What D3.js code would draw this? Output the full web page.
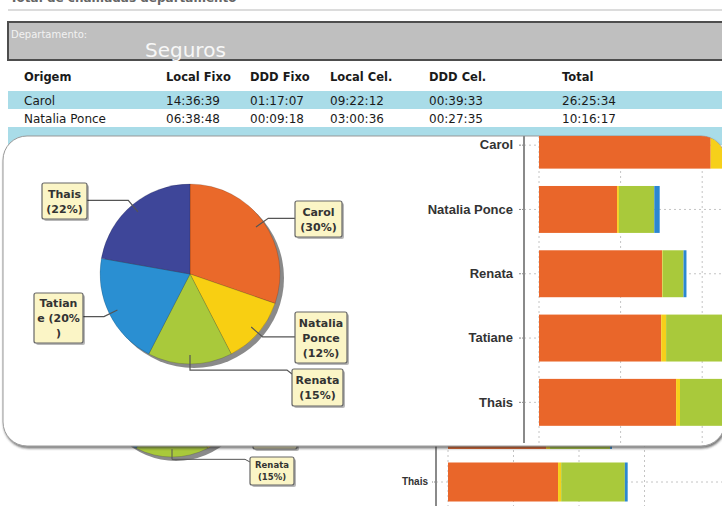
<!DOCTYPE html>
<meta charset="UTF-8">
<style>
    body { margin: 0; background: #fff; }
    svg { display: block; }
    .tbl text { font: 12px "DejaVu Sans", sans-serif; fill: #1a1a1a; }
    .tbl text.hdr { font-weight: bold; font-size: 11.5px; }
    .cat text { font: bold 13px "Liberation Sans", Arial, sans-serif; fill: #333; }
    .bgcat text { font: bold 10px "Liberation Sans", Arial, sans-serif; fill: #333; }
    .grid line { stroke: #c4c4c4; stroke-dasharray: 2,3; }
</style>
<body>
<div id="chart"></div>
<script src="https://d3js.org/d3.v7.min.js"></script>
<script>
    // people and the four call types (hh:mm:ss)
    var people = ["Carol", "Natalia Ponce", "Renata", "Tatiane", "Thais"];
    var headers = ["Origem", "Local Fixo", "DDD Fixo", "Local Cel.", "DDD Cel.", "Total"];
    var localFixo = ["14:36:39", "06:38:48", "10:28:00", "10:24:00", "11:40:00"];
    var dddFixo   = ["01:17:07", "00:09:18", "00:03:00", "00:25:00", "00:20:00"];
    var localCel  = ["09:22:12", "03:00:36", "01:47:00", "06:22:00", "06:45:00"];
    var dddCel    = ["00:39:33", "00:27:35", "00:15:00", "00:12:00", "00:18:00"];
    var totals    = ["26:25:34", "10:16:17"];
    var pieShare  = [30, 12, 15, 20, 22];
    var xTicks    = [0, 25000, 50000, 75000];

    var seriesColors = ["#e9662a", "#f6d01a", "#a9c93b", "#2b87d1"];
    var pieColors = ["#ea692a", "#f8cf12", "#a9c93b", "#2a8fd2", "#3e4699"];

    var W = 722, H = 506;
    var svg = d3.select("#chart").append("svg").attr("width", W).attr("height", H);
    var defs = svg.append("defs");

    var sh = defs.append("filter").attr("id", "cardShadow")
            .attr("x", "-5%").attr("y", "-5%").attr("width", "110%").attr("height", "115%");
    sh.append("feDropShadow").attr("dx", 1).attr("dy", 2).attr("stdDeviation", 1.3)
            .attr("flood-color", "#333").attr("flood-opacity", 0.65);

    var card = {x: 3, y: 136, w: 722, h: 310, r: 24};
    defs.append("clipPath").attr("id", "cardClip").append("rect")
            .attr("x", card.x).attr("y", card.y).attr("width", card.w).attr("height", card.h)
            .attr("rx", card.r);

    function sec(s) {
        var p = s.split(":").map(Number);
        return p[0] * 3600 + p[1] * 60 + p[2];
    }

    var rows = people.map(function (p, i) {
        return {name: p, lf: sec(localFixo[i]), df: sec(dddFixo[i]), lc: sec(localCel[i]), dc: sec(dddCel[i])};
    });
    var keys = ["lf", "df", "lc", "dc"];
    var stacked = d3.stack().keys(keys)(rows);

    // ****************** report page (background) ******************

    var page = svg.append("g");
    page.append("text").attr("x", 10).attr("y", 2)
            .style("font", "bold 12px 'DejaVu Sans', sans-serif").attr("fill", "#666")
            .text("Total de chamadas departamento");
    page.append("line").attr("x1", 8).attr("x2", W).attr("y1", 10).attr("y2", 10)
            .attr("stroke", "#dcdcdc").attr("stroke-width", 2);

    page.append("rect").attr("x", 8).attr("y", 22).attr("width", 716).attr("height", 38)
            .attr("fill", "#bfbfbf").attr("stroke", "#4d4d4d").attr("stroke-width", 2);
    page.append("text").attr("x", 11).attr("y", 38).attr("fill", "#f2f2f2")
            .style("font", "10px 'DejaVu Sans', sans-serif").text("Departamento:");
    page.append("text").attr("x", 145).attr("y", 57).attr("fill", "#f7f7f7")
            .style("font", "20px 'DejaVu Sans', sans-serif").text("Seguros");

    var colX = [24, 166, 250, 330, 429, 562];
    var tbl = page.append("g").attr("class", "tbl");
    [91, 127].forEach(function (y) {
        tbl.append("rect").attr("x", 8).attr("y", y).attr("width", 716).attr("height", 18).attr("fill", "#a9dce8");
    });
    tbl.selectAll("text.hdr").data(headers).join("text").attr("class", "hdr")
            .attr("x", function (d, i) { return colX[i]; }).attr("y", 81).text(function (d) { return d; });
    totals.forEach(function (t, r) {
        var vals = [people[r], localFixo[r], dddFixo[r], localCel[r], dddCel[r], t];
        tbl.selectAll("text.r" + r).data(vals).join("text").attr("class", "r" + r)
                .attr("x", function (d, i) { return colX[i]; }).attr("y", 105 + r * 18)
                .text(function (d) { return d; });
    });

    // ****************** pie helper ******************

    function drawPie(g, o) {
        var arcs = d3.pie().sort(null).value(function (d) { return d; })(pieShare);
        var arc = d3.arc().innerRadius(0).outerRadius(o.r);
        var pg = g.append("g").attr("transform", "translate(" + o.cx + "," + o.cy + ")");
        pg.append("circle").attr("cx", o.rim).attr("cy", o.rim).attr("r", o.r).attr("fill", "#8a8a8a");
        pg.selectAll("path.slice").data(arcs).join("path").attr("class", "slice")
                .attr("d", arc)
                .attr("fill", function (d, i) { return pieColors[i]; })
                .attr("stroke", "rgba(0,0,0,0.25)").attr("stroke-width", 0.6);

        o.boxes.forEach(function (b, i) {
            if (!b) return;
            var a = arcs[i], mid = (a.startAngle + a.endAngle) / 2;
            var ax = Math.sin(mid) * o.r * 0.9, ay = -Math.cos(mid) * o.r * 0.9;
            var ex = Math.sin(mid) * o.r * o.elbow, ey = -Math.cos(mid) * o.r * o.elbow;
            var bx = b.x - o.cx, by = b.y - o.cy;
            var right = bx > 0;
            var edge = right ? bx : bx + b.w;
            var ty = Math.max(by + 5, Math.min(by + b.h - 5, ey));
            pg.append("path")
                    .attr("d", "M" + ax + "," + ay + "L" + ex + "," + ey +
                            "L" + (edge + (right ? -5 : 5)) + "," + ey + "L" + edge + "," + ty)
                    .attr("fill", "none").attr("stroke", "#555").attr("stroke-width", o.lw);

            var txt = people[i].replace(" ", " ") + " (" + pieShare[i] + "%)";
            var lines = [], last = 0;
            b.breaks.concat([txt.length]).forEach(function (k) {
                lines.push(txt.slice(last, k).trim());
                last = k;
            });
            pg.append("rect").attr("x", bx + 2).attr("y", by + 2).attr("width", b.w).attr("height", b.h)
                    .attr("rx", 2).attr("fill", "rgba(0,0,0,0.28)");
            pg.append("rect").attr("x", bx).attr("y", by).attr("width", b.w).attr("height", b.h)
                    .attr("rx", 2).attr("fill", "#fbf5c6").attr("stroke", "#666").attr("stroke-width", 1.2);
            var top = by + (b.h - lines.length * o.lh) / 2 + o.lh * 0.78;
            pg.selectAll("text.l" + i).data(lines).join("text").attr("class", "l" + i)
                    .attr("x", bx + b.w / 2).attr("y", function (d, k) { return top + k * o.lh; })
                    .attr("text-anchor", "middle")
                    .style("font", "bold " + o.fs + "px 'DejaVu Sans', Verdana, sans-serif")
                    .attr("fill", "#333").text(function (d) { return d; });
        });
    }

    // ****************** bars helper ******************

    function drawBars(g, o) {
        var x = d3.scaleLinear().domain([0, 25000]).range([o.x0, o.x0 + o.tickPx]);
        var y = d3.scaleBand().domain(people).range(o.yr).paddingInner(o.pad).paddingOuter(o.pad / 2);
        var grid = g.append("g").attr("class", "grid");
        grid.selectAll("line.v").data(o.ticks).join("line").attr("class", "v")
                .attr("x1", x).attr("x2", x).attr("y1", o.top).attr("y2", o.bottom);
        grid.selectAll("line.h").data(people).join("line").attr("class", "h")
                .attr("x1", o.axisX).attr("x2", W)
                .attr("y1", function (d) { return y(d) + y.bandwidth() / 2; })
                .attr("y2", function (d) { return y(d) + y.bandwidth() / 2; });

        g.selectAll("g.series").data(stacked).join("g").attr("class", "series")
                .attr("fill", function (d, i) { return seriesColors[i]; })
                .selectAll("rect").data(function (d) { return d; }).join("rect")
                .attr("x", function (d) { return x(d[0]); })
                .attr("width", function (d) { return x(d[1]) - x(d[0]); })
                .attr("y", function (d) { return y(d.data.name); })
                .attr("height", y.bandwidth());

        var ax = g.append("g").attr("class", o.cls)
                .attr("transform", "translate(" + o.axisX + ",0)")
                .call(d3.axisLeft(y).tickSize(o.tick).tickPadding(o.tickPad));
        ax.select(".domain").remove();
        ax.selectAll(".tick line").attr("stroke", "#888").attr("stroke-dasharray", "2,1");
        g.append("line").attr("x1", o.axisX).attr("x2", o.axisX).attr("y1", o.top).attr("y2", o.bottom)
                .attr("stroke", "#8a8a8a").attr("stroke-width", 2);
    }

    // background report pie and bars (mostly hidden under the card)
    drawPie(page, {
        cx: 172, cy: 379, r: 78, rim: 4, elbow: 1.03, lw: 1, fs: 8.5, lh: 12,
        boxes: [null, {x: 253, y: 410, w: 44, h: 39, breaks: [7, 13]}, {x: 250, y: 457, w: 44, h: 28, breaks: [6]}, null, null]
    });
    drawBars(page.append("g"), {
        x0: 448, tickPx: 65.5, ticks: xTicks, yr: [245.75, 508.25], pad: 0.257,
        axisX: 436, top: 440, bottom: H, tick: 4, tickPad: 4, cls: "bgcat"
    });

    // ****************** card overlay ******************

    svg.append("rect").attr("x", card.x).attr("y", card.y).attr("width", card.w).attr("height", card.h)
            .attr("rx", card.r).attr("fill", "#fff").attr("stroke", "#9a9a9a").attr("stroke-width", 1)
            .attr("filter", "url(#cardShadow)");
    var inner = svg.append("g").attr("clip-path", "url(#cardClip)");

    drawPie(inner, {
        cx: 190, cy: 274, r: 90, rim: 4, elbow: 1.067, lw: 1.2, fs: 11, lh: 15,
        boxes: [
            {x: 295, y: 201, w: 47, h: 36, breaks: [5]},
            {x: 295, y: 312, w: 52, h: 51, breaks: [7, 13]},
            {x: 292, y: 369, w: 51, h: 37, breaks: [6]},
            {x: 34, y: 293, w: 49, h: 50, breaks: [6, 12]},
            {x: 42, y: 183, w: 45, h: 36, breaks: [5]}
        ]
    });

    drawBars(inner.append("g"), {
        x0: 539, tickPx: 81.6, ticks: xTicks, yr: [113, 434.5], pad: 0.27,
        axisX: 524, top: card.y, bottom: card.y + card.h - 3, tick: 5, tickPad: 6, cls: "cat"
    });
</script>
</body>
